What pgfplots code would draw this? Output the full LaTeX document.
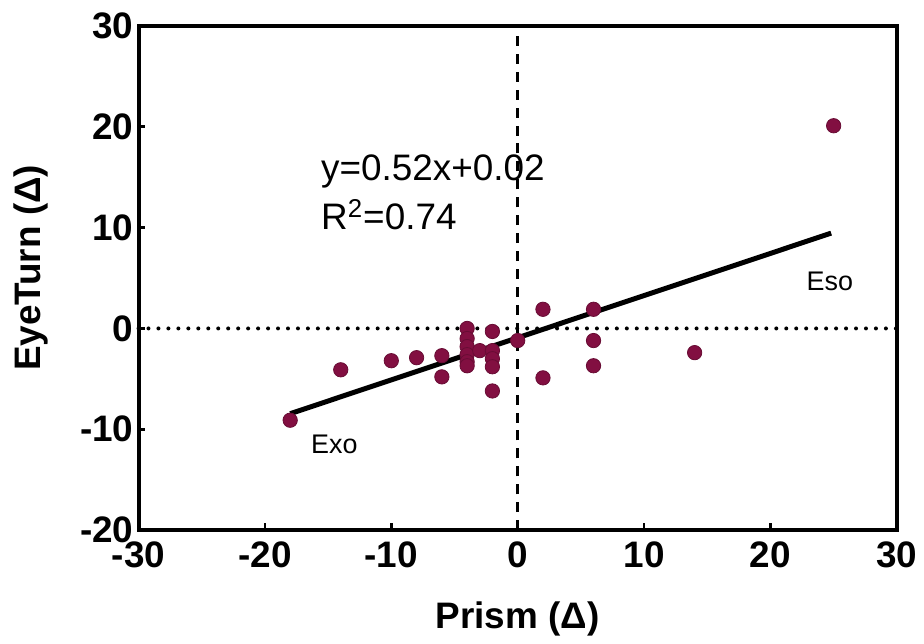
\documentclass[border=0pt]{standalone}
\usepackage{fontspec}
\setmainfont{Liberation Sans}
\usepackage{pgfplots}
\pgfplotsset{compat=1.18}
\definecolor{dotc}{RGB}{130,15,65}
\begin{document}
\begin{tikzpicture}
  \begin{axis}[
      name=ax,
      scale only axis, width=380.5pt, height=253pt,
      xmin=-30, xmax=30, ymin=-20, ymax=30,
      xtick={-30,-20,...,30}, ytick={-20,-10,...,30},
      xtick pos=lower, ytick pos=left, tick align=inside,
      major tick length=3.5pt,
      every tick/.style={black, line width=1.4pt},
      axis line style={line width=2pt},
      /pgf/number format/assume math mode=true,
      tick label style={font=\fontsize{18.5}{20}\selectfont\bfseries},
      xticklabel style={yshift=-2.5pt},
      yticklabel style={xshift=1pt},
      xlabel={Prism (Δ)}, ylabel={EyeTurn (Δ)},
      label style={font=\fontsize{18.5}{20}\selectfont\bfseries},
      xlabel style={at={(axis description cs:0.5,-0.176)}, anchor=center},
      ylabel style={at={(axis description cs:-0.142,0.52)}, anchor=center},
      clip=false,
    ]
    %% reference lines at zero
    \draw[line width=2pt, line cap=round, dash pattern=on 0pt off 5pt] (axis cs:-30,0) -- (axis cs:30,0);
    \draw[line width=1.2pt, dash pattern=on 5pt off 4pt] (axis cs:0,-20) -- (axis cs:0,30);
    %% fitted line as drawn
    \addplot[black, line width=2.5pt, no marks] coordinates {(-18,-8.45) (24.8,9.45)};
    %% patients
    \addplot[only marks, mark=*, mark size=3.6pt, mark options={fill=dotc, draw=dotc!80!black, line width=0.4pt}] coordinates {
      (-18,-9.1) (-14,-4.1) (-10,-3.2) (-8,-2.9) (-6,-2.7) (-6,-4.8)
      (-4,0) (-4,-1) (-4,-1.8) (-4,-2.6) (-4,-3.3) (-4,-3.7)
      (-3,-2.2)
      (-2,-0.3) (-2,-2.2) (-2,-3) (-2,-3.8) (-2,-6.2)
      (0,-1.2) (2,1.9) (2,-4.9)
      (6,1.9) (6,-1.2) (6,-3.7)
      (14,-2.4) (25,20.1)
    };
    \node[anchor=west, font=\fontsize{18.5}{20}\selectfont] at (axis cs:-16.1,15.6) {y=0.52x+0.02};
    \node[anchor=west, font=\fontsize{18.5}{20}\selectfont] at (axis cs:-16.1,11.3) {R\textsuperscript{2}=0.74};
    \node[font=\fontsize{13.5}{15}\selectfont] at (axis cs:24.7,4.7) {Eso};
    \node[font=\fontsize{13.5}{15}\selectfont] at (axis cs:-14.5,-11.5) {Exo};
  \end{axis}
  \path ([shift={(-69.5pt,-57pt)}]ax.south west) rectangle ([shift={(12pt,13pt)}]ax.north east);
\end{tikzpicture}
\end{document}
